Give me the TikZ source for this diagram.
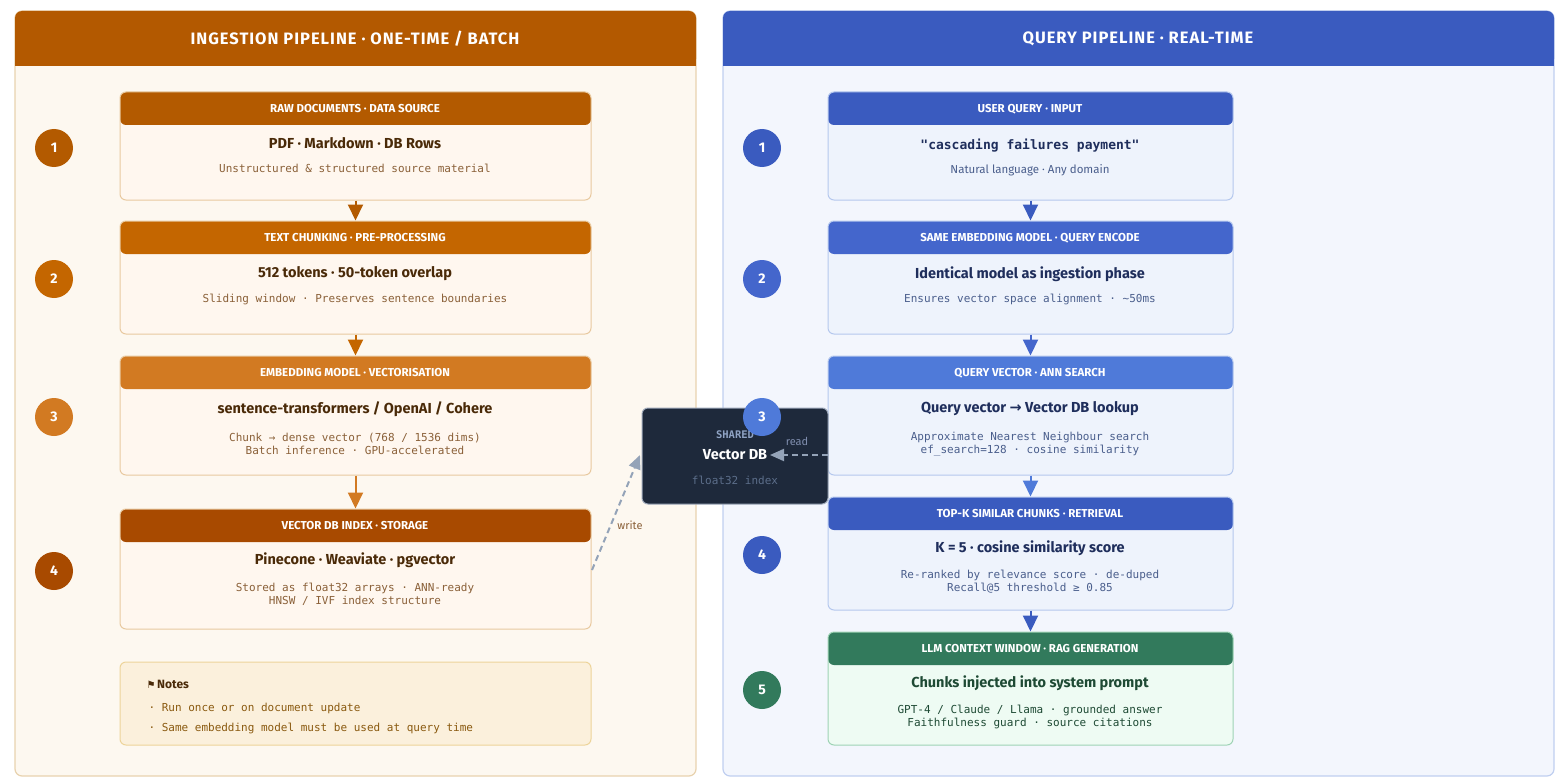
\documentclass[tikz,border=0pt]{standalone}
\usepackage{fontspec}
\setmainfont{Fira Sans}
\setsansfont{Fira Sans}
\setmonofont{DejaVu Sans Mono}
\usetikzlibrary{arrows.meta}
\usetikzlibrary{positioning}

\definecolor{ingHead}{HTML}{B35900}
\definecolor{ingPanel}{HTML}{FDF8F0}
\definecolor{ingRim}{HTML}{E8D2AE}
\definecolor{ingBody}{HTML}{FFF7EF}
\definecolor{ingBorder}{HTML}{E8C9A0}
\definecolor{ingText}{HTML}{4A2A08}
\definecolor{ingSub}{HTML}{8A6038}
\definecolor{ingA}{HTML}{B35A00}
\definecolor{ingB}{HTML}{C46600}
\definecolor{ingC}{HTML}{D27A22}
\definecolor{ingD}{HTML}{A84A00}
\definecolor{qryHead}{HTML}{3A5BBF}
\definecolor{qryPanel}{HTML}{F3F6FD}
\definecolor{qryRim}{HTML}{C0CFF0}
\definecolor{qryBody}{HTML}{EEF3FC}
\definecolor{qryBorder}{HTML}{B5C8EE}
\definecolor{qryText}{HTML}{1F2E5C}
\definecolor{qrySub}{HTML}{4A5E8C}
\definecolor{qryA}{HTML}{3A5BBF}
\definecolor{qryB}{HTML}{4466CC}
\definecolor{qryC}{HTML}{4F7AD9}
\definecolor{genHead}{HTML}{327A5C}
\definecolor{genBody}{HTML}{EEFBF3}
\definecolor{genBorder}{HTML}{9ED3B5}
\definecolor{genText}{HTML}{1E4A34}
\definecolor{dbFill}{HTML}{1E293B}
\definecolor{dbMute}{HTML}{5C6E8A}
\definecolor{dbTag}{HTML}{8FA3C4}
\definecolor{linkGray}{HTML}{94A3B8}
\definecolor{noteFill}{HTML}{FBF0DC}
\definecolor{noteRim}{HTML}{EDD49A}
\definecolor{noteText}{HTML}{8A5A10}

\tikzset{
  panel/.style={rounded corners=7pt, line width=1.2pt},
  card/.style n args={3}{rectangle, rounded corners=6pt, line width=1pt,
    fill=#2, draw=#3, inner sep=0pt,
    path picture={\fill[#1] ([yshift=1pt]path picture bounding box.north west)
      rectangle ([yshift=-33pt]path picture bounding box.north east);}},
  cardtitle/.style={text=white, font=\sffamily\bfseries\fontsize{11.5}{13}\selectfont},
  mainline/.style={font=\sffamily\bfseries\fontsize{14.5}{17}\selectfont},
  monoline/.style={font=\ttfamily\fontsize{11}{13}\selectfont, align=center},
  step/.style={circle, fill=#1, minimum size=38pt, inner sep=0pt, text=white,
    font=\sffamily\bfseries\fontsize{14}{16}\selectfont},
  flow/.style={draw=#1, line width=2pt, -{Triangle[width=15pt,length=16pt]}},
  link/.style={draw=linkGray, line width=2pt, dash pattern=on 6pt off 4pt,
    -{Triangle[width=12pt,length=14pt]}}
}

\begin{document}
\begin{tikzpicture}[x=1pt, y=-1pt]
\useasboundingbox (0,0) rectangle (1563,781);

% panels
\draw[panel, fill=ingPanel, draw=ingRim] (15,11) rectangle (696,776);
\fill[ingHead, rounded corners=7pt] (15,11) rectangle (696,66);
\fill[ingHead] (15,40) rectangle (696,66);
\node[text=white, font=\sffamily\bfseries\fontsize{16.5}{19}\selectfont\addfontfeatures{LetterSpace=6}] (ing_title) at (355,39) {INGESTION PIPELINE · ONE-TIME / BATCH};

\draw[panel, fill=qryPanel, draw=qryRim] (723,11) rectangle (1554,776);
\fill[qryHead, rounded corners=7pt] (723,11) rectangle (1554,66);
\fill[qryHead] (723,40) rectangle (1554,66);
\node[text=white, font=\sffamily\bfseries\fontsize{16.5}{19}\selectfont\addfontfeatures{LetterSpace=6}] (qry_title) at (1138,39) {QUERY PIPELINE · REAL-TIME};

% ingestion cards
\node[card={ingA}{ingBody}{ingBorder}, minimum width=471pt, minimum height=108pt] (raw) at (355.5,146) {};
\node[card={ingB}{ingBody}{ingBorder}, minimum width=471pt, minimum height=113pt] (chunk) at (355.5,277.5) {};
\node[card={ingC}{ingBody}{ingBorder}, minimum width=471pt, minimum height=119pt] (embed) at (355.5,415.5) {};
\node[card={ingD}{ingBody}{ingBorder}, minimum width=471pt, minimum height=120pt] (index) at (355.5,569) {};

\node[cardtitle] at (355,109) {RAW DOCUMENTS · DATA SOURCE};
\node[mainline, text=ingText] at (355,143) {PDF · Markdown · DB Rows};
\node[monoline, text=ingSub] at (355,168) {Unstructured \& structured source material};

\node[cardtitle] at (355,238) {TEXT CHUNKING · PRE-PROCESSING};
\node[mainline, text=ingText] at (355,274) {512 tokens · 50-token overlap};
\node[monoline, text=ingSub] at (355,299) {Sliding window · Preserves sentence boundaries};

\node[cardtitle] at (355,373) {EMBEDDING MODEL · VECTORISATION};
\node[mainline, text=ingText] at (355,409) {sentence-transformers / OpenAI / Cohere};
\node[monoline, text=ingSub] at (355,444) {Chunk → dense vector (768 / 1536 dims)\\Batch inference · GPU-accelerated};

\node[cardtitle] at (355,526) {VECTOR DB INDEX · STORAGE};
\node[mainline, text=ingText] at (355,560) {Pinecone · Weaviate · pgvector};
\node[monoline, text=ingSub] at (355,594) {Stored as float32 arrays · ANN-ready\\HNSW / IVF index structure};

\node[step=ingA] (ing_s1) at (54,148) {1};
\node[step=ingB] (ing_s2) at (54,279) {2};
\node[step=ingC] (ing_s3) at (54,417) {3};
\node[step=ingD] (ing_s4) at (54,571) {4};

\draw[flow=ingA] (raw) -- (chunk);
\draw[flow=ingB] (chunk) -- (embed);
\draw[flow=ingC] (embed) -- (index);

% notes
\node[rectangle, rounded corners=6pt, fill=noteFill, draw=noteRim, line width=1pt,
      minimum width=471pt, minimum height=83pt] (notes) at (355.5,703.5) {};
\node[anchor=west, text=ingText, font=\sffamily\bfseries\fontsize{12}{14}\selectfont] (notes_title) at (143,684) {\fontspec{DejaVu Sans}\fontsize{10}{12}\selectfont ⚑\,\fontspec{Fira Sans}\bfseries\fontsize{12}{14}\selectfont Notes};
\node[anchor=west, text=noteText, font=\ttfamily\fontsize{11}{13}\selectfont] (note_a) at (145,708) {· Run once or on document update};
\node[anchor=west, text=noteText, font=\ttfamily\fontsize{11}{13}\selectfont] (note_b) at (145,728) {· Same embedding model must be used at query time};

% query cards
\node[card={qryA}{qryBody}{qryBorder}, minimum width=405pt, minimum height=108pt] (uq) at (1030.5,146) {};
\node[card={qryB}{qryBody}{qryBorder}, minimum width=405pt, minimum height=113pt] (enc) at (1030.5,277.5) {};
\node[card={qryC}{qryBody}{qryBorder}, minimum width=405pt, minimum height=119pt] (ann) at (1030.5,415.5) {};
\node[card={qryA}{qryBody}{qryBorder}, minimum width=405pt, minimum height=113pt] (topk) at (1030.5,553.5) {};
\node[card={genHead}{genBody}{genBorder}, minimum width=405pt, minimum height=113pt] (llm) at (1030.5,688.5) {};

\node[cardtitle] at (1030,109) {USER QUERY · INPUT};
\node[text=qryText, font=\ttfamily\bfseries\fontsize{13}{15}\selectfont] at (1030,146) {"cascading failures payment"};
\node[text=qrySub, font=\sffamily\fontsize{11.5}{13}\selectfont] at (1030,170) {Natural language · Any domain};

\node[cardtitle] at (1030,238) {SAME EMBEDDING MODEL · QUERY ENCODE};
\node[mainline, text=qryText] at (1030,274) {Identical model as ingestion phase};
\node[monoline, text=qrySub] at (1030,299) {Ensures vector space alignment · \textasciitilde50ms};

\node[cardtitle] at (1030,373) {QUERY VECTOR · ANN SEARCH};
\node[mainline, text=qryText] at (1030,409) {Query vector \fontspec{DejaVu Sans}\bfseries→\fontspec{Fira Sans}\bfseries{} Vector DB lookup};
\node[monoline, text=qrySub] at (1030,444) {Approximate Nearest Neighbour search\\ef\_search=128 · cosine similarity};

\node[cardtitle] at (1030,514) {TOP-K SIMILAR CHUNKS · RETRIEVAL};
\node[mainline, text=qryText] at (1030,548) {K = 5 · cosine similarity score};
\node[monoline, text=qrySub] at (1030,582) {Re-ranked by relevance score · de-duped\\Recall@5 threshold ≥ 0.85};

\node[cardtitle] at (1030,649) {LLM CONTEXT WINDOW · RAG GENERATION};
\node[mainline, text=genText] at (1030,683) {Chunks injected into system prompt};
\node[monoline, text=genText] at (1030,717) {GPT-4 / Claude / Llama · grounded answer\\Faithfulness guard · source citations};

\draw[flow=qryA] (uq) -- (enc);
\draw[flow=qryB] (enc) -- (ann);
\draw[flow=qryC] (ann) -- (topk);
\draw[flow=qryA] (topk) -- (llm);

% shared store
\node[rectangle, rounded corners=6pt, fill=dbFill, draw=dbMute!60, line width=1pt,
      minimum width=186pt, minimum height=96pt] (vdb) at (735,456) {};
\node[text=dbTag, font=\ttfamily\bfseries\fontsize{10.5}{12}\selectfont] (vdb_tag) at (735,435) {SHARED};
\node[text=white, font=\sffamily\bfseries\fontsize{14.5}{17}\selectfont] (vdb_name) at (735,455) {Vector DB};
\node[text=dbMute, font=\ttfamily\fontsize{11}{13}\selectfont] (vdb_sub) at (735,480) {float32 index};

\node[step=qryC] (qry_s3) at (762,417) {3};
\node[step=qryA] (qry_s1) at (762,148) {1};
\node[step=qryB] (qry_s2) at (762,279) {2};
\node[step=qryA] (qry_s4) at (762,555) {4};
\node[step=genHead] (qry_s5) at (762,690) {5};

\coordinate (read_from) at (828,455);
\coordinate (write_from) at (592,570);
\draw[link] (read_from) -- (770,455);
\draw[link] (write_from) -- (640,455);
\node[text=qrySub!70, font=\sffamily\fontsize{11}{13}\selectfont] (read_lbl) at (797,441) {read};
\node[text=ingSub, font=\sffamily\fontsize{11}{13}\selectfont] (write_lbl) at (630,525) {write};
\end{tikzpicture}
\end{document}
